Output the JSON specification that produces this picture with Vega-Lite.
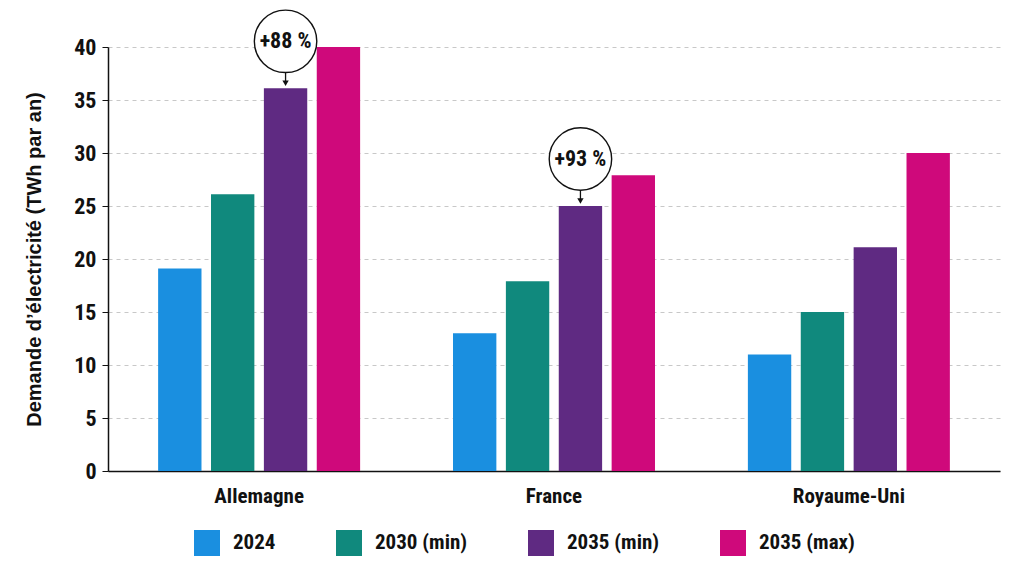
{
  "$schema": "https://vega.github.io/schema/vega-lite/v6.json",
  "description": "Demande d'électricité par pays et scénario",
  "width": 892,
  "height": 424,
  "autosize": "none",
  "padding": {"left": 108, "top": 47, "right": 24, "bottom": 105},
  "background": "white",
  "config": {
    "font": "'Roboto Condensed', Roboto, sans-serif",
    "view": {"stroke": null}
  },
  "datasets": {
    "demande": [
      {"pays": "Allemagne", "scenario": "2024", "valeur": 19.1},
      {"pays": "Allemagne", "scenario": "2030 (min)", "valeur": 26.1},
      {"pays": "Allemagne", "scenario": "2035 (min)", "valeur": 36.1},
      {"pays": "Allemagne", "scenario": "2035 (max)", "valeur": 40},
      {"pays": "France", "scenario": "2024", "valeur": 13},
      {"pays": "France", "scenario": "2030 (min)", "valeur": 17.9},
      {"pays": "France", "scenario": "2035 (min)", "valeur": 25},
      {"pays": "France", "scenario": "2035 (max)", "valeur": 27.9},
      {"pays": "Royaume-Uni", "scenario": "2024", "valeur": 11},
      {"pays": "Royaume-Uni", "scenario": "2030 (min)", "valeur": 15},
      {"pays": "Royaume-Uni", "scenario": "2035 (min)", "valeur": 21.1},
      {"pays": "Royaume-Uni", "scenario": "2035 (max)", "valeur": 30}
    ],
    "hausse": [
      {"pays": "Allemagne", "scenario": "2035 (min)", "valeur": 36.1, "label": "+88 %"},
      {"pays": "France", "scenario": "2035 (min)", "valeur": 25, "label": "+93 %"}
    ]
  },
  "encoding": {
    "x": {
      "field": "pays",
      "type": "nominal",
      "sort": ["Allemagne", "France", "Royaume-Uni"],
      "scale": {"paddingInner": 0.315, "paddingOuter": 0.17},
      "axis": {
        "title": null,
        "labelAngle": 0,
        "labelFontSize": 21,
        "labelFontWeight": "bold",
        "labelColor": "#111",
        "labelPadding": 14,
        "ticks": false,
        "domainColor": "#111",
        "domainWidth": 1.5
      }
    },
    "xOffset": {
      "field": "scenario",
      "type": "nominal",
      "sort": ["2024", "2030 (min)", "2035 (min)", "2035 (max)"],
      "scale": {"domain": ["2024", "2030 (min)", "2035 (min)", "2035 (max)"], "paddingInner": 0.18}
    },
    "y": {
      "field": "valeur",
      "type": "quantitative",
      "scale": {"domain": [0, 40]},
      "axis": {
        "title": "Demande d’électricité (TWh par an)",
        "titleFont": "'Liberation Sans', Arial, sans-serif",
        "titleFontSize": 20,
        "titleFontWeight": "bold",
        "titleColor": "#111",
        "titlePadding": 29,
        "values": [0, 5, 10, 15, 20, 25, 30, 35, 40],
        "labelFontSize": 22,
        "labelFontWeight": "bold",
        "labelColor": "#111",
        "labelPadding": 6,
        "tickSize": 6,
        "tickColor": "#111",
        "domainColor": "#111",
        "domainWidth": 1.5,
        "grid": true,
        "gridColor": "#c8c8c8",
        "gridDash": [4, 4]
      }
    }
  },
  "layer": [
    {
      "data": {"name": "demande"},
      "mark": {"type": "bar"},
      "encoding": {
        "color": {
          "field": "scenario",
          "type": "nominal",
          "sort": ["2024", "2030 (min)", "2035 (min)", "2035 (max)"],
          "scale": {
            "domain": ["2024", "2030 (min)", "2035 (min)", "2035 (max)"],
            "range": ["#1a8fe0", "#10897d", "#5f2a82", "#cf097b"]
          },
          "legend": {
            "title": null,
            "orient": "none",
            "direction": "horizontal",
            "legendX": 86,
            "legendY": 483,
            "symbolType": "square",
            "symbolSize": 676,
            "symbolStrokeWidth": 0,
            "labelFontSize": 21,
            "labelFontWeight": "bold",
            "labelColor": "#111",
            "labelOffset": 13,
            "columnPadding": 60
          }
        }
      }
    },
    {
      "data": {"name": "hausse"},
      "mark": {"type": "rule", "yOffset": -17, "y2Offset": -6, "color": "#111", "strokeWidth": 1.3},
      "encoding": {"y2": {"field": "valeur"}}
    },
    {
      "data": {"name": "hausse"},
      "mark": {"type": "point", "shape": "triangle-down", "filled": true, "color": "#111", "size": 40, "yOffset": -5, "opacity": 1},
      "encoding": {}
    },
    {
      "data": {"name": "hausse"},
      "mark": {"type": "point", "shape": "circle", "filled": true, "fill": "white", "stroke": "#111", "strokeWidth": 1.4, "size": 3900, "opacity": 1, "yOffset": -47, "xOffset": -9},
      "encoding": {}
    },
    {
      "data": {"name": "hausse"},
      "mark": {"type": "text", "fontSize": 22, "fontWeight": "bold", "color": "#111", "yOffset": -47, "xOffset": -9},
      "encoding": {"text": {"field": "label"}}
    }
  ]
}
